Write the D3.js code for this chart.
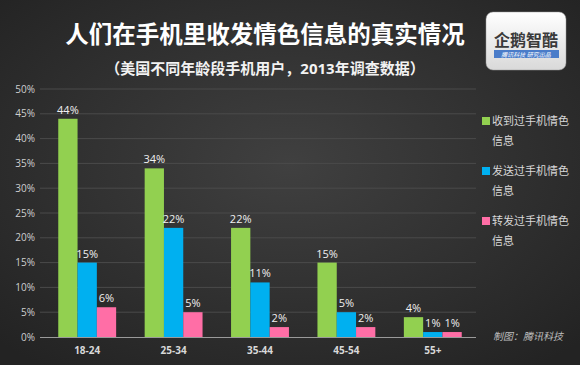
<!DOCTYPE html>
<html>
<head>
<meta charset="utf-8">
<script src="https://cdn.jsdelivr.net/npm/d3@7"></script>
<style>
  body { margin: 0; background: #333; }
  svg { display: block; font-family: "Open Sans", "Noto Sans CJK SC", sans-serif; }
</style>
</head>
<body>
<svg width="580" height="365"></svg>
<script>
// DATA
const categories = ["18-24", "25-34", "35-44", "45-54", "55+"];
const seriesNames = ["收到过手机情色信息", "发送过手机情色信息", "转发过手机情色信息"];
const received = [44, 34, 22, 15, 4];
const sent = [15, 22, 11, 5, 1];
const forwarded = [6, 5, 2, 2, 1];
const yTicks = [0, 5, 10, 15, 20, 25, 30, 35, 40, 45, 50];

// LAYOUT
const W = 580, H = 365;
const PLOT = {left: 44, right: 476, top: 89, bottom: 337};
const COLORS = ["#92d050", "#00b0f0", "#ff6ea6"];

const svg = d3.select("svg");
const defs = svg.append("defs");

const bg = defs.append("radialGradient").attr("id", "bg")
    .attr("cx", "50%").attr("cy", "45%").attr("r", "70%");
bg.append("stop").attr("offset", "0%").attr("stop-color", "#404040");
bg.append("stop").attr("offset", "100%").attr("stop-color", "#232323");

const logoGrad = defs.append("linearGradient").attr("id", "logo")
    .attr("x1", 0).attr("y1", 0).attr("x2", 0).attr("y2", 1);
logoGrad.append("stop").attr("offset", "0%").attr("stop-color", "#ffffff");
logoGrad.append("stop").attr("offset", "100%").attr("stop-color", "#d9d9d9");

svg.append("rect").attr("width", W).attr("height", H).attr("fill", "url(#bg)");

// titles
svg.append("text")
    .attr("x", 265).attr("y", 43)
    .attr("text-anchor", "middle")
    .attr("fill", "#fff").attr("font-weight", "bold").attr("font-size", 23.5)
    .text("人们在手机里收发情色信息的真实情况");

svg.append("text")
    .attr("x", 265).attr("y", 74)
    .attr("text-anchor", "middle")
    .attr("fill", "#f2f2f2").attr("font-weight", "bold").attr("font-size", 15)
    .text("（美国不同年龄段手机用户，2013年调查数据）");

// logo box
const logo = svg.append("g").attr("transform", "translate(486,12)");
logo.append("rect").attr("width", 80).attr("height", 58).attr("rx", 7)
    .attr("fill", "url(#logo)").attr("stroke", "#999").attr("stroke-width", 0.5);
logo.append("text").attr("x", 40).attr("y", 34).attr("text-anchor", "middle")
    .attr("fill", "#3a3a3a").attr("font-weight", "bold").attr("font-size", 16)
    .text("企鹅智酷");
logo.append("rect").attr("x", 8).attr("y", 38).attr("width", 65).attr("height", 8)
    .attr("fill", "#4a7cc9");
logo.append("text").attr("x", 40).attr("y", 44.5).attr("text-anchor", "middle")
    .attr("fill", "#fff").attr("font-size", 6).attr("font-style", "italic")
    .text("腾讯科技  研究出品");

// scales
const x0 = d3.scaleBand().domain(categories).range([PLOT.left, PLOT.right])
    .paddingInner(0.33).paddingOuter(0.165);
const x1 = d3.scaleBand().domain(d3.range(seriesNames.length)).range([0, x0.bandwidth()]);
const y = d3.scaleLinear().domain([0, 50]).range([PLOT.bottom, PLOT.top]);

// gridlines + y labels
svg.append("g").selectAll("line").data(yTicks.slice(1)).join("line")
    .attr("x1", 40).attr("x2", PLOT.right)
    .attr("y1", d => y(d)).attr("y2", d => y(d))
    .attr("stroke", "#4a4a4a").attr("stroke-width", 1);

svg.append("g").selectAll("text").data(yTicks).join("text")
    .attr("x", 35).attr("y", d => y(d) + 3.5)
    .attr("text-anchor", "end")
    .attr("fill", "#cfcfcf").attr("font-size", 10)
    .text(d => d + "%");

// bars
const allSeries = [received, sent, forwarded];
const groups = svg.append("g").selectAll("g").data(categories).join("g")
    .attr("transform", d => `translate(${x0(d)},0)`);

groups.selectAll("rect")
    .data((c, i) => allSeries.map((s, k) => ({k, v: s[i]})))
    .join("rect")
    .attr("x", d => x1(d.k))
    .attr("width", x1.bandwidth())
    .attr("y", d => y(d.v))
    .attr("height", d => y(0) - y(d.v))
    .attr("fill", d => COLORS[d.k]);

groups.selectAll("text")
    .data((c, i) => allSeries.map((s, k) => ({k, v: s[i]})))
    .join("text")
    .attr("x", d => x1(d.k) + x1.bandwidth() / 2)
    .attr("y", d => y(d.v) - 5)
    .attr("text-anchor", "middle")
    .attr("fill", "#f0f0f0").attr("font-size", 11)
    .text(d => d.v + "%");

// x axis line + labels
svg.append("line")
    .attr("x1", 40).attr("x2", PLOT.right)
    .attr("y1", y(0) + 0.5).attr("y2", y(0) + 0.5)
    .attr("stroke", "#9a9a9a");

svg.append("g").selectAll("text").data(categories).join("text")
    .attr("x", d => x0(d) + x0.bandwidth() / 2)
    .attr("y", 354)
    .attr("text-anchor", "middle")
    .attr("fill", "#d8d8d8").attr("font-weight", "bold").attr("font-size", 10)
    .text(d => d);

// legend
const legend = svg.append("g").selectAll("g").data(seriesNames).join("g")
    .attr("transform", (d, i) => `translate(482,${121 + i * 50})`);
legend.append("rect").attr("x", 0).attr("y", -4).attr("width", 8).attr("height", 8)
    .attr("fill", (d, i) => COLORS[i]);
legend.append("text").attr("x", 10).attr("y", 4)
    .attr("fill", "#d8d8d8").attr("font-size", 11)
    .text(d => d.slice(0, 7));
legend.append("text").attr("x", 10).attr("y", 24)
    .attr("fill", "#d8d8d8").attr("font-size", 11)
    .text(d => d.slice(7));

// credit
svg.append("text").attr("x", 493).attr("y", 340)
    .attr("fill", "#bdbdbd").attr("font-size", 10).attr("font-style", "italic")
    .text("制图：腾讯科技");
</script>
</body>
</html>
